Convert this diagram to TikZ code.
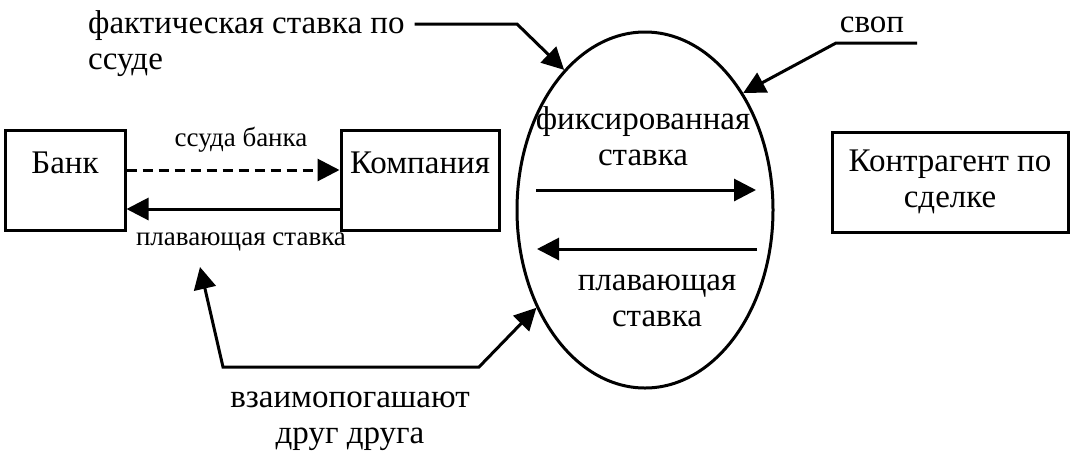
\documentclass[tikz,border=0pt]{standalone}
\usepackage{fontspec}
\setmainfont{Liberation Serif}
\usetikzlibrary{arrows.meta,shapes.geometric}
\begin{document}
\begin{tikzpicture}[x=1pt,y=-1pt,arr/.style={>={Triangle[length=22pt,width=22pt]},line width=3pt},box/.style={rectangle,draw=black,line width=3pt,inner sep=0pt,minimum height=100pt},big/.style={font=\fontsize{33}{36}\selectfont,inner sep=0pt},small/.style={font=\fontsize{27}{30}\selectfont,inner sep=0pt}]
        \useasboundingbox (0,0) rectangle (1075,459);
        \node[box,big,minimum width=120pt,text height=43pt,text depth=57pt] (bank) at (65,180) {Банк};
        \node[box,big,minimum width=158pt,text height=43pt,text depth=57pt] (komp) at (420,180) {Компания};
        \node[box,big,align=center,minimum width=236pt] (kontr) at (950,182) {Контрагент по\\сделке};
        \node[ellipse,draw=black,line width=3pt,minimum width=256pt,minimum height=356pt,inner sep=0pt] (swap) at (645,210) {};
        \node[big,align=center,anchor=north] (fix) at (643,106) {фиксированная\\ставка};
        \node[big,align=center,anchor=north] (flt) at (657,275) {плавающая\\ставка};
        \node[big,align=left,anchor=north west] (fakt) at (88,10) {фактическая ставка по\\ссуде};
        \node[big,anchor=base] (svop) at (872,32) {своп};
        \node[big,align=center,anchor=north] (vzaim) at (350,392) {взаимопогашают\\друг друга};
        \node[small,anchor=base] (ssuda) at (241,146) {ссуда банка};
        \node[small,anchor=base] (plav) at (241,245) {плавающая ставка};
        \coordinate (fix l) at (536,190);
        \coordinate (fix r) at (756,190);
        \coordinate (flt r) at (757,249);
        \coordinate (flt l) at (537,249);
        \coordinate (fakt bend) at (517,24);
        \coordinate (svop end) at (917,43);
        \coordinate (svop bend) at (836,43);
        \coordinate (vz top) at (200,267);
        \coordinate (vz l) at (223,367);
        \coordinate (vz r) at (479,367);
        \draw [arr,->,dash pattern=on 10pt off 6pt] ([yshift=10pt]bank.east) -- ([yshift=10pt]komp.west);
        \draw [arr,->] ([yshift=-29pt]komp.west) -- ([yshift=-29pt]bank.east);
        \draw [arr,->] (fix l) -- (fix r);
        \draw [arr,->] (flt r) -- (flt l);
        \draw [arr,->] ([xshift=10pt,yshift=-14pt]fakt.north east) -- (fakt bend) -- (swap.120);
        \draw [arr,->] (svop end) -- (svop bend) -- (swap.50);
        \draw [arr,<->] (vz top) -- (vz l) -- (vz r) -- (swap.222);
    \end{tikzpicture}
\end{document}
